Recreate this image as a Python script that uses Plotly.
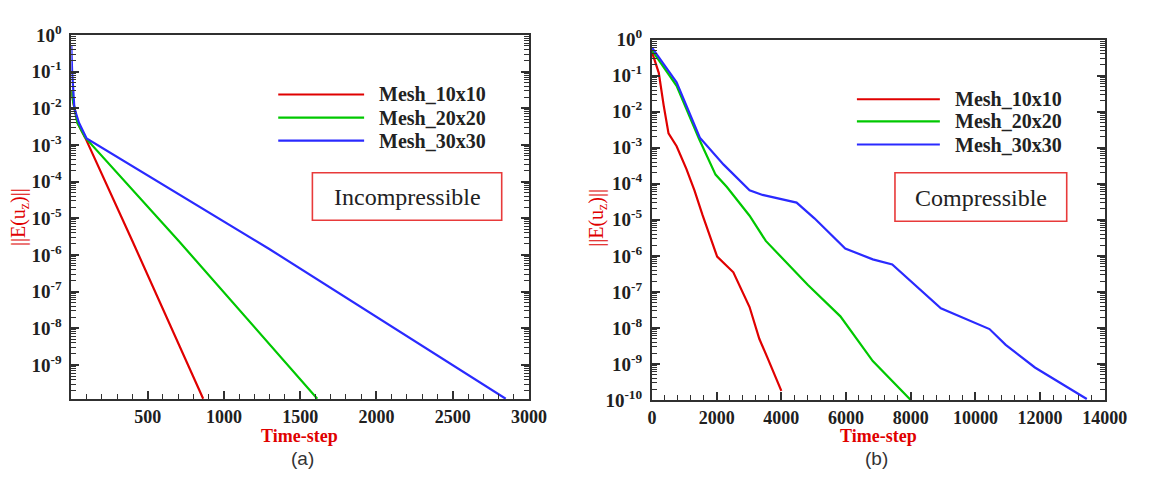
import plotly.graph_objects as go

# ---- data: error norm vs. time-step, three mesh sizes ----
mesh_names = ["Mesh_10x10", "Mesh_20x20", "Mesh_30x30"]
mesh_colors = ["#e00000", "#00c800", "#2a2aff"]

# (a) incompressible
inc_t_10 = [0, 12, 40, 90, 400, 864]
inc_e_10 = [3e-2, 1.5e-2, 4e-3, 1.6e-3, 2.4e-6, 1.2e-10]
inc_t_20 = [0, 12, 40, 90, 704, 1612]
inc_e_20 = [3e-2, 1.5e-2, 4e-3, 1.6e-3, 2.4e-6, 1.2e-10]
inc_t_30 = [0, 5, 20, 50, 100, 1292, 2847]
inc_e_30 = [0.5, 0.1, 1e-2, 4e-3, 1.5e-3, 1.5e-6, 1.2e-10]

# (b) compressible
com_t_10 = [0, 60, 210, 361, 511, 762, 1063, 1313, 1564, 2015, 2516, 3017, 3318, 3569, 4000]
com_e_10 = [0.45, 0.32, 0.12, 1.5e-2, 2.5e-3, 1.1e-3, 2.6e-4, 6.6e-5, 1.35e-5, 9.5e-7,
            3.5e-7, 3.8e-8, 5e-9, 1.5e-9, 1.8e-10]
com_t_20 = [0, 761, 1464, 1965, 2316, 3017, 3519, 4822, 5825, 6827, 8000]
com_e_20 = [0.5, 5.2e-2, 1.7e-3, 1.8e-4, 8.1e-5, 1.3e-5, 2.6e-6, 1.55e-7, 2.1e-8,
            1.2e-9, 1e-10]
com_t_30 = [0, 761, 1480, 2216, 3017, 3418, 4471, 5023, 5975, 6827, 7429, 8231, 8932,
            10436, 10937, 11840, 13444]
com_e_30 = [0.6, 6.5e-2, 1.9e-3, 3.4e-4, 6.6e-5, 4.9e-5, 3e-5, 1.1e-5, 1.6e-6, 8e-7,
            5.8e-7, 1.3e-7, 3.5e-8, 9.3e-9, 3.4e-9, 8e-10, 1.07e-10]

inc_xticks = [500, 1000, 1500, 2000, 2500, 3000]
com_xticks = [0, 2000, 4000, 6000, 8000, 10000, 12000, 14000]
y_exponents = list(range(0, -11, -1))

W, H = 1159, 489


def px(x):
    return x / W


def py(y):
    return 1 - y / H


SERIF = "Liberation Serif"
AX = "#303030"

fig = go.Figure()

panels = [
    ("x", "y", [(inc_t_10, inc_e_10), (inc_t_20, inc_e_20), (inc_t_30, inc_e_30)]),
    ("x2", "y2", [(com_t_10, com_e_10), (com_t_20, com_e_20), (com_t_30, com_e_30)]),
]
for xa, ya, series in panels:
    for (t, e), name, col in zip(series, mesh_names, mesh_colors):
        fig.add_trace(go.Scatter(x=t, y=e, mode="lines", name=name, xaxis=xa, yaxis=ya,
                                 line=dict(color=col, width=2.2), showlegend=False))

y_tickvals = [10.0 ** k for k in y_exponents]
y_ticktext = [f"10<sup>{k}</sup>" for k in y_exponents]
y_minor = [m * 10.0 ** e for e in range(-11, 1) for m in range(2, 10)]

x_tick_font = dict(family=SERIF, size=18, color="#202020", weight="bold")
y_tick_font = dict(family=SERIF, size=19, color="#202020", weight="bold")


def xaxis(domain, rng, ticks, minor_step, anchor):
    return dict(domain=domain, range=rng, anchor=anchor, tickmode="array", tickvals=ticks,
                ticktext=[str(v) for v in ticks], ticks="inside", ticklen=8, tickwidth=1.5,
                tickcolor=AX, showline=True, linecolor=AX, linewidth=2, mirror=True,
                showgrid=False, zeroline=False, tickfont=x_tick_font, ticklabelstandoff=0,
                minor=dict(dtick=minor_step, tick0=0, ticks="inside", ticklen=5,
                           tickwidth=1.2, tickcolor=AX, showgrid=False))


def yaxis(domain, rng, anchor):
    return dict(domain=domain, type="log", range=rng, anchor=anchor, tickmode="array",
                tickvals=y_tickvals, ticktext=y_ticktext, ticks="inside", ticklen=8,
                tickwidth=2, tickcolor=AX, showline=True, linecolor=AX, linewidth=2,
                mirror="allticks", showgrid=False, zeroline=False, tickfont=y_tick_font,
                ticklabelstandoff=4,
                minor=dict(tickmode="array", tickvals=y_minor, ticks="inside", ticklen=5,
                           tickwidth=1.2, tickcolor=AX, showgrid=False))


fig.update_layout(
    width=W, height=H, margin=dict(l=0, r=0, t=0, b=0),
    paper_bgcolor="white", plot_bgcolor="white", showlegend=False,
    xaxis=xaxis([px(68), px(537)], [0, 3000], inc_xticks, 100, "y"),
    yaxis=yaxis([py(406), py(23)], [-9.93, 0], "x"),
    xaxis2=xaxis([px(663), px(1127)], [0, 14000], com_xticks, 400, "y2"),
    yaxis2=yaxis([py(407), py(28)], [-10, 0], "x2"),
)

shapes = []
annotations = []

# hand-drawn legends and case boxes
legend_specs = [
    (280, 368, 381, [85.7, 110, 134.3], (315, 168, 509, 218), "Incompressible", 412),
    (873, 958, 971, [90.7, 114, 138.3], (912, 168, 1088, 219), "Compressible", 1000),
]
for x0, x1, xt, ys, box, label, bx in legend_specs:
    for yv, name, col in zip(ys, mesh_names, mesh_colors):
        shapes.append(dict(type="line", xref="paper", yref="paper", x0=px(x0), x1=px(x1),
                           y0=py(yv), y1=py(yv), line=dict(color=col, width=2.2)))
        annotations.append(dict(xref="paper", yref="paper", x=px(xt), y=py(yv), text=name,
                                showarrow=False, xanchor="left", yanchor="middle",
                                font=dict(family=SERIF, size=20, color="#222",
                                          weight="bold")))
    bx0, by0, bx1, by1 = box
    shapes.append(dict(type="rect", xref="paper", yref="paper", x0=px(bx0), x1=px(bx1),
                       y0=py(by1), y1=py(by0), line=dict(color="#e83a3a", width=1.6)))
    annotations.append(dict(xref="paper", yref="paper", x=px(bx), y=py((by0 + by1) / 2 + 1),
                            text=label, showarrow=False, xanchor="center", yanchor="middle",
                            font=dict(family=SERIF, size=24, color="#222")))

# axis titles and panel tags
for xt, yt, xx, yx, tag_x, tag in [(302, 445, 15, 215, 305, "(a)"),
                                   (895, 445, 607, 215, 893, "(b)")]:
    annotations.append(dict(xref="paper", yref="paper", x=px(xt), y=py(yt), text="Time-step",
                            showarrow=False, xanchor="center", yanchor="middle",
                            font=dict(family=SERIF, size=18, color="#e00000",
                                      weight="bold")))
    annotations.append(dict(xref="paper", yref="paper", x=px(xx), y=py(yx),
                            text="||E(u<sub>z</sub>)||", textangle=-90, showarrow=False,
                            xanchor="center", yanchor="middle",
                            font=dict(family=SERIF, size=20, color="#e00000")))
    annotations.append(dict(xref="paper", yref="paper", x=px(tag_x), y=py(468), text=tag,
                            showarrow=False, xanchor="center", yanchor="middle",
                            font=dict(family="Liberation Sans", size=19, color="#333")))

fig.update_layout(shapes=shapes, annotations=annotations)

# keep the page exactly the size of the figure (no body margin, no scrollbars)
page_fit = ("document.documentElement.style.margin='0';"
            "document.body.style.margin='0';"
            "document.documentElement.style.overflow='hidden';"
            "document.body.style.overflow='hidden';")
fig.write_html("out.html", post_script=page_fit)
